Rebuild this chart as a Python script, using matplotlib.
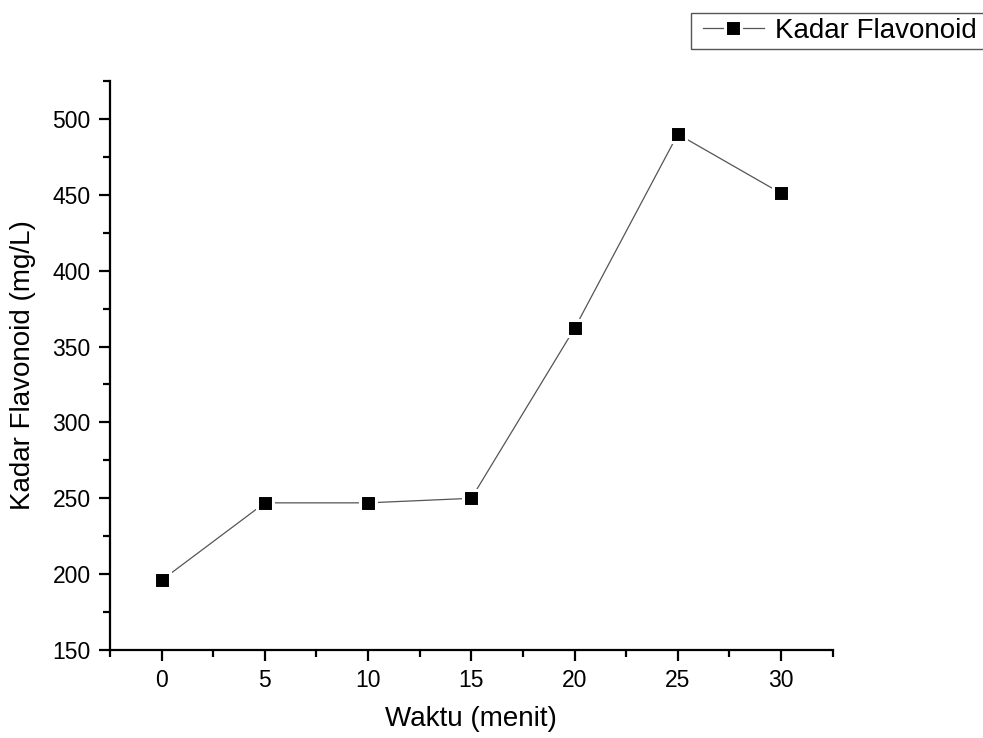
import numpy as np
import matplotlib
matplotlib.use('Agg')
from matplotlib import pyplot as plt
from matplotlib.patches import Rectangle
from matplotlib.ticker import MultipleLocator

plt.rcParams['font.family'] = ['Liberation Sans', 'DejaVu Sans']

# waktu ekstraksi (menit) vs kadar flavonoid (mg/L)
waktu = [0, 5, 10, 15, 20, 25, 30]
kadar = [196, 247, 247, 250, 362, 490, 451]

fig = plt.figure(figsize=(9.83, 7.38), dpi=100)
ax = fig.add_axes([0.1119, 0.1192, 0.7352, 0.7710])

ax.plot(waktu, kadar, color='#555555', lw=0.9, marker='s', markersize=11,
        markerfacecolor='black', markeredgecolor='white', markeredgewidth=2.2,
        label='Kadar Flavonoid')

ax.set_xlim(-2.5, 32.5)
ax.set_ylim(150, 525)
ax.xaxis.set_major_locator(MultipleLocator(5))
ax.xaxis.set_minor_locator(MultipleLocator(2.5))
ax.yaxis.set_major_locator(MultipleLocator(50))
ax.yaxis.set_minor_locator(MultipleLocator(25))

for side in ['top', 'right']:
    ax.spines[side].set_visible(False)
for side in ['left', 'bottom']:
    ax.spines[side].set_linewidth(1.6)

ax.tick_params(which='major', direction='out', length=8, width=1.6,
               labelsize=16.5, pad=6)
ax.tick_params(which='minor', direction='out', length=5, width=1.6)

ax.set_xlabel('Waktu (menit)', fontsize=20, labelpad=10)
ax.set_ylabel('Kadar Flavonoid (mg/L)', fontsize=20, labelpad=12)

# legend box runs off the right edge of the figure
fig.legend(loc='upper left', bbox_to_anchor=(0.7091, 0.983),
           fontsize=20, frameon=False, handlelength=2.2,
           handletextpad=0.4, borderpad=0.2, borderaxespad=0)
fig.patches.append(Rectangle((0.703, 0.9332), 0.5, 0.0496,
                             transform=fig.transFigure, fill=False,
                             edgecolor='#555555', linewidth=1.0))

fig.savefig('out.png', dpi=100)
